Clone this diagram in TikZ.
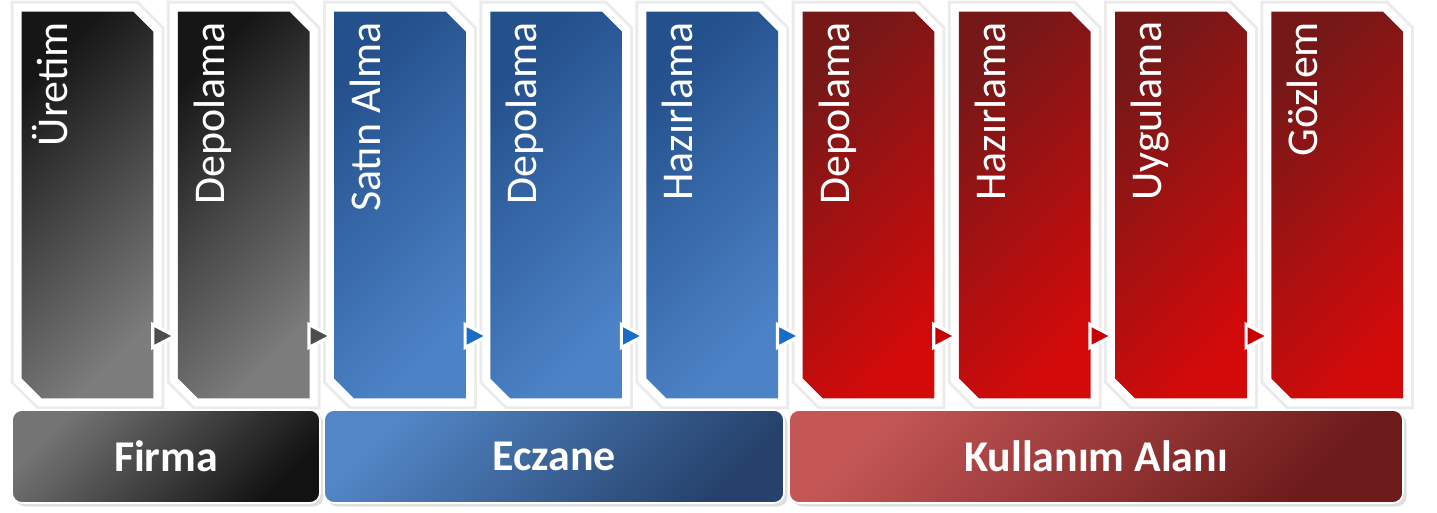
\documentclass[tikz,border=0pt]{standalone}
\usepackage{fontspec}
\setmainfont{Carlito}
\usetikzlibrary{shapes.geometric, shadows, positioning}

\definecolor{grikoyu}{HTML}{161616}
\definecolor{griacik}{HTML}{7C7C7C}
\definecolor{mavikoyu}{HTML}{24508C}
\definecolor{maviacik}{HTML}{4C83C7}
\definecolor{kirmizikoyu}{HTML}{761818}
\definecolor{kirmiziacik}{HTML}{D20A0A}
\definecolor{okgri}{HTML}{4D4D4D}
\definecolor{okmavi}{HTML}{1A6CC6}
\definecolor{okkirmizi}{HTML}{C80000}

\begin{document}
\begin{tikzpicture}[
    adim/.style={rectangle, minimum width=2.62cm, minimum height=7.72cm, inner sep=0pt},
    adimyol/.style={line join=miter,
      preaction={draw=black, draw opacity=0.08, line width=0.44cm},
      preaction={draw=white, line width=0.32cm}},
    griadim/.style={shading=axis, left color=grikoyu, right color=griacik, shading angle=45},
    maviadim/.style={shading=axis, left color=mavikoyu, right color=maviacik, shading angle=45},
    kirmiziadim/.style={shading=axis, left color=kirmizikoyu, right color=kirmiziacik, shading angle=45},
    etiket/.style={rotate=90, anchor=base east, inner sep=0pt, text=white, font=\fontsize{25}{30}\selectfont},
    ok/.style={isosceles triangle, isosceles triangle stretches, minimum width=0.46cm, minimum height=0.44cm,
      inner sep=0pt, anchor=apex, draw=white, line width=1.8pt},
    grup/.style={rectangle, rounded corners=0.2cm, minimum height=1.86cm, draw=white, line width=1pt,
      text=white, font=\bfseries\fontsize{25}{30}\selectfont,
      drop shadow={opacity=0.25, shadow xshift=2pt, shadow yshift=-2pt}}]
    \useasboundingbox (0,0) rectangle (28.74,10.26);

    % yerlesim icin adim kutulari
    \node [adim] (adim1) at (1.75,6.16) {};
    \node [adim, right=0.49cm of adim1] (adim2) {};
    \node [adim, right=0.49cm of adim2] (adim3) {};
    \node [adim, right=0.49cm of adim3] (adim4) {};
    \node [adim, right=0.49cm of adim4] (adim5) {};
    \node [adim, right=0.49cm of adim5] (adim6) {};
    \node [adim, right=0.49cm of adim6] (adim7) {};
    \node [adim, right=0.49cm of adim7] (adim8) {};
    \node [adim, right=0.49cm of adim8] (adim9) {};

    % kose kesik paneller
    \foreach \n/\renk in {1/griadim, 2/griadim, 3/maviadim, 4/maviadim, 5/maviadim,
                          6/kirmiziadim, 7/kirmiziadim, 8/kirmiziadim, 9/kirmiziadim}
      \path [adimyol, \renk] (adim\n.north west) -- ([xshift=-0.4cm]adim\n.north east)
        -- ([yshift=-0.4cm]adim\n.north east) -- (adim\n.south east)
        -- ([xshift=0.4cm]adim\n.south west) -- ([yshift=0.4cm]adim\n.south west) -- cycle;

    \node [ok, fill=okgri] (ok1) at ([xshift=0.02cm, yshift=-2.62cm]adim2.west) {};
    \node [ok, fill=okgri] (ok2) at ([xshift=0.02cm, yshift=-2.62cm]adim3.west) {};
    \node [ok, fill=okmavi] (ok3) at ([xshift=0.02cm, yshift=-2.62cm]adim4.west) {};
    \node [ok, fill=okmavi] (ok4) at ([xshift=0.02cm, yshift=-2.62cm]adim5.west) {};
    \node [ok, fill=okmavi] (ok5) at ([xshift=0.02cm, yshift=-2.62cm]adim6.west) {};
    \node [ok, fill=okkirmizi] (ok6) at ([xshift=0.02cm, yshift=-2.62cm]adim7.west) {};
    \node [ok, fill=okkirmizi] (ok7) at ([xshift=0.02cm, yshift=-2.62cm]adim8.west) {};
    \node [ok, fill=okkirmizi] (ok8) at ([xshift=0.02cm, yshift=-2.62cm]adim9.west) {};

    \node [etiket] (yazi1) at ([xshift=-0.39cm, yshift=-0.2cm]adim1.north) {Üretim};
    \node [etiket] (yazi2) at ([xshift=-0.39cm, yshift=-0.2cm]adim2.north) {Depolama};
    \node [etiket] (yazi3) at ([xshift=-0.39cm, yshift=-0.2cm]adim3.north) {Satın Alma};
    \node [etiket] (yazi4) at ([xshift=-0.39cm, yshift=-0.2cm]adim4.north) {Depolama};
    \node [etiket] (yazi5) at ([xshift=-0.39cm, yshift=-0.2cm]adim5.north) {Hazırlama};
    \node [etiket] (yazi6) at ([xshift=-0.39cm, yshift=-0.2cm]adim6.north) {Depolama};
    \node [etiket] (yazi7) at ([xshift=-0.39cm, yshift=-0.2cm]adim7.north) {Hazırlama};
    \node [etiket] (yazi8) at ([xshift=-0.39cm, yshift=-0.2cm]adim8.north) {Uygulama};
    \node [etiket] (yazi9) at ([xshift=-0.39cm, yshift=-0.2cm]adim9.north) {Gözlem};

    \node [grup, minimum width=6.16cm, shading=axis, left color={rgb,255:red,116;green,116;blue,116},
      right color={rgb,255:red,18;green,18;blue,18}, shading angle=45] (firma) at (3.32,1.13) {Firma};
    \node [grup, minimum width=9.2cm, shading=axis, left color={rgb,255:red,82;green,134;blue,198},
      right color={rgb,255:red,38;green,66;blue,108}, shading angle=45] (eczane) at (11.08,1.13) {Eczane};
    \node [grup, minimum width=12.28cm, shading=axis, left color={rgb,255:red,196;green,86;blue,86},
      right color={rgb,255:red,108;green,26;blue,26}, shading angle=45] (kullanim) at (21.92,1.13) {Kullanım Alanı};
  \end{tikzpicture}
\end{document}
